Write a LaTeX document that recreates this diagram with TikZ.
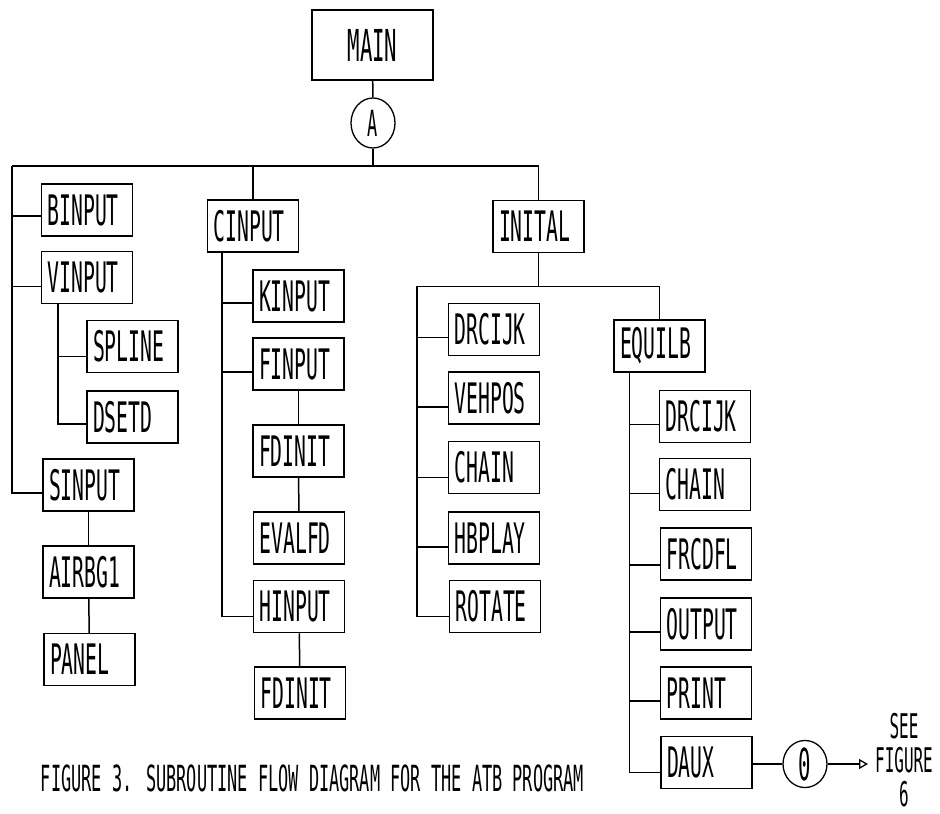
\documentclass[tikz,border=0pt]{standalone}
\usepackage{fontspec}
\newfontfamily\dotfont[FakeStretch=0.47]{DejaVu Sans Mono}
\usetikzlibrary{calc,arrows.meta,shapes.geometric}
\begin{document}
\begin{tikzpicture}[x=1pt,y=-1pt,
  lbl/.style={font=\dotfont\fontsize{42}{42}\selectfont},
  sub/.style={lbl, draw, line width=1.5pt, minimum width=91pt, minimum height=52pt,
    text width=79pt, align=left, inner sep=6pt},
  conn/.style={line width=1.5pt},
  connector/.style={draw, ellipse, line width=1.3pt, inner sep=0pt,
    font=\dotfont\fontsize{36}{36}\selectfont}]
\useasboundingbox (0,0) rectangle (940,814);

% top
\node[lbl, draw, line width=1.5pt, minimum width=121pt, minimum height=70pt, inner sep=0pt,
  font=\dotfont\fontsize{44}{44}\selectfont]
  (main) at (372.5,45) {MAIN};
\node[connector, minimum width=44pt, minimum height=50pt] (A) at (373,123) {A};

% first column
\node[sub] (binput) at (87,210) {BINPUT};
\node[sub] (vinput) at (87,277.5) {VINPUT};
\node[sub] (spline) at (132.5,346.5) {SPLINE};
\node[sub] (dsetd) at (132.5,417) {DSETD};
\node[sub] (sinput) at (88.5,485) {SINPUT};
\node[sub] (airbg) at (88.5,572) {AIRBG1};
\node[sub] (panel) at (89.5,659.5) {PANEL};

% second column
\node[sub] (cinput) at (253,226) {CINPUT};
\node[sub] (kinput) at (298.5,296) {KINPUT};
\node[sub] (finput) at (298.5,364) {FINPUT};
\node[sub] (fdinit) at (298.5,451) {FDINIT};
\node[sub] (evalfd) at (299,538) {EVALFD};
\node[sub] (hinput) at (299,606.5) {HINPUT};
\node[sub] (fdinitb) at (300,693) {FDINIT};

% third column
\node[sub] (inital) at (538.5,226.5) {INITAL};
\node[sub] (drcijk) at (494,329.5) {DRCIJK};
\node[sub] (vehpos) at (494,398) {VEHPOS};
\node[sub] (chain) at (494,467.5) {CHAIN};
\node[sub] (hbplay) at (494,538) {HBPLAY};
\node[sub] (rotate) at (495,606.5) {ROTATE};

% fourth column
\node[sub] (equilb) at (659.5,346) {EQUILB};
\node[sub] (drcijkb) at (705,416.5) {DRCIJK};
\node[sub] (chainb) at (705,484.5) {CHAIN};
\node[sub] (frcdfl) at (706,554) {FRCDFL};
\node[sub] (output) at (706,624) {OUTPUT};
\node[sub] (print) at (706,693) {PRINT};
\node[sub] (daux) at (706.5,762.5) {DAUX};

\node[connector, minimum width=44pt, minimum height=42pt,
  font=\dotfont\fontsize{44}{44}\selectfont] (O) at (805,764) {0};
\coordinate (tip) at (868,764);
\node[lbl, font=\dotfont\fontsize{34}{34}\selectfont, align=center, inner sep=1pt] (see) at (904,760) {SEE\\FIGURE\\6};

\node[lbl, font=\dotfont\fontsize{36}{36}\selectfont] (caption) at (312.5,778)
  {FIGURE 3. SUBROUTINE FLOW DIAGRAM FOR THE ATB PROGRAM};

% connectors: top
\coordinate (busL) at (12,166);
\coordinate (busR) at (538.5,166);
\draw[conn] (main) -- (A);
\draw[conn] (A) -- (A |- busL);
\draw[conn] (busL) -- (busR) -- (inital);
\draw[conn] (cinput.north |- busL) -- (cinput.north);
\draw[conn] (busL) |- ($(binput.west)+(0,6)$);
\draw[conn] (busL) |- ($(vinput.west)+(0,9)$);
\draw[conn] (busL) |- ($(sinput.west)+(0,8)$);

% VINPUT subtree
\coordinate (vx) at ($(vinput.south west)+(17,0)$);
\draw[conn] (vx) |- ($(spline.west)+(0,10)$);
\draw[conn] (vx) |- ($(dsetd.west)+(0,7)$);
\draw[conn] (sinput) -- (airbg);
\draw[conn] (airbg) -- (panel);

% CINPUT subtree
\coordinate (cx) at ($(cinput.south west)+(15,0)$);
\draw[conn] (cx) |- ($(kinput.west)+(0,7)$);
\draw[conn] (cx) |- ($(finput.west)+(0,8)$);
\draw[conn] (cx) |- ($(hinput.west)+(0,10)$);
\draw[conn] (finput) -- (fdinit);
\draw[conn] (fdinit) -- (evalfd);
\draw[conn] (hinput) -- (fdinitb);

% INITAL subtree
\coordinate (ibus) at ($(inital.south)+(0,33)$);
\coordinate (iL) at ($(ibus -| drcijk.west)+(-31,0)$);
\draw[conn] (inital) -- (ibus);
\draw[conn] (iL) -- (ibus -| equilb.north) -- (equilb.north);
\draw[conn] (iL) |- ($(drcijk.west)+(0,8)$);
\draw[conn] (iL) |- ($(vehpos.west)+(0,9)$);
\draw[conn] (iL) |- ($(chain.west)+(0,10)$);
\draw[conn] (iL) |- ($(hbplay.west)+(0,9)$);
\draw[conn] (iL) |- ($(rotate.west)+(0,10)$);

% EQUILB subtree
\coordinate (ex) at ($(equilb.south west)+(16,0)$);
\draw[conn] (ex) |- ($(drcijkb.west)+(0,8)$);
\draw[conn] (ex) |- ($(chainb.west)+(0,9)$);
\draw[conn] (ex) |- ($(frcdfl.west)+(0,11)$);
\draw[conn] (ex) |- ($(output.west)+(0,8)$);
\draw[conn] (ex) |- ($(print.west)+(0,8)$);
\draw[conn] (ex) |- ($(daux.west)+(0,10)$);

% off-page connector
\draw[conn] (daux.east |- O) -- (O);
\draw[conn, -{Triangle[open, length=9pt, width=10pt, line width=1.3pt]}] (O) -- (tip);
\end{tikzpicture}
\end{document}
